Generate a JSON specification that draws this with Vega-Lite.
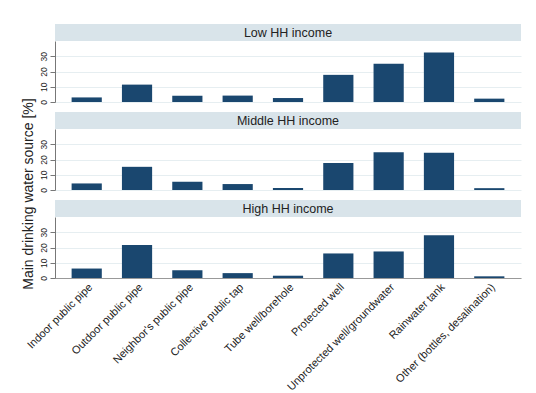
{
  "$schema": "https://vega.github.io/schema/vega-lite/v6.json",
  "padding": {"left": 21, "top": 24, "right": 8, "bottom": 2},
  "background": "white",
  "title": {
    "text": "Main drinking water source [%]",
    "orient": "left",
    "anchor": "middle",
    "fontSize": 14,
    "fontWeight": "normal",
    "color": "#222",
    "offset": -11,
    "dx": 14
  },
  "datasets": {
    "water": [
      {"income": "Low HH income", "source": "Indoor public pipe", "share": 3.0},
      {"income": "Low HH income", "source": "Outdoor public pipe", "share": 11.4},
      {"income": "Low HH income", "source": "Neighbor's public pipe", "share": 4.1},
      {"income": "Low HH income", "source": "Collective public tap", "share": 4.2},
      {"income": "Low HH income", "source": "Tube well/borehole", "share": 2.6},
      {"income": "Low HH income", "source": "Protected well", "share": 17.8},
      {"income": "Low HH income", "source": "Unprotected well/groundwater", "share": 25.1},
      {"income": "Low HH income", "source": "Rainwater tank", "share": 32.4},
      {"income": "Low HH income", "source": "Other (bottles, desalination)", "share": 2.2},
      {"income": "Middle HH income", "source": "Indoor public pipe", "share": 4.3},
      {"income": "Middle HH income", "source": "Outdoor public pipe", "share": 15.2},
      {"income": "Middle HH income", "source": "Neighbor's public pipe", "share": 5.4},
      {"income": "Middle HH income", "source": "Collective public tap", "share": 3.9},
      {"income": "Middle HH income", "source": "Tube well/borehole", "share": 1.3},
      {"income": "Middle HH income", "source": "Protected well", "share": 17.7},
      {"income": "Middle HH income", "source": "Unprotected well/groundwater", "share": 24.7},
      {"income": "Middle HH income", "source": "Rainwater tank", "share": 24.5},
      {"income": "Middle HH income", "source": "Other (bottles, desalination)", "share": 1.2},
      {"income": "High HH income", "source": "Indoor public pipe", "share": 6.2},
      {"income": "High HH income", "source": "Outdoor public pipe", "share": 21.6},
      {"income": "High HH income", "source": "Neighbor's public pipe", "share": 5.1},
      {"income": "High HH income", "source": "Collective public tap", "share": 3.2},
      {"income": "High HH income", "source": "Tube well/borehole", "share": 1.5},
      {"income": "High HH income", "source": "Protected well", "share": 16.1},
      {"income": "High HH income", "source": "Unprotected well/groundwater", "share": 17.4},
      {"income": "High HH income", "source": "Rainwater tank", "share": 28.0},
      {"income": "High HH income", "source": "Other (bottles, desalination)", "share": 1.1}
    ],
    "panels": [
      {"income": "Low HH income"},
      {"income": "Middle HH income"},
      {"income": "High HH income"}
    ]
  },
  "spacing": 7,
  "vconcat": [
    {
      "spacing": 0,
      "vconcat": [
        {
          "width": 466, "height": 17,
          "view": {"fill": "#d9e4ea", "stroke": null},
          "data": {"name": "panels"},
          "transform": [{"filter": "datum.income === 'Low HH income'"}],
          "mark": {"type": "text", "fontSize": 12.5, "font": "Liberation Sans", "color": "#222"},
          "encoding": {"text": {"field": "income"}}
        },
        {
          "width": 466, "height": 61,
          "data": {"name": "water"},
          "transform": [{"filter": "datum.income === 'Low HH income'"}],
          "mark": {"type": "bar", "color": "#1a476f"},
          "encoding": {
            "x": {"field": "source", "type": "nominal", "sort": null, "axis": null,
                  "scale": {"paddingInner": 0.4, "paddingOuter": 0.33}},
            "y": {"field": "share", "type": "quantitative", "scale": {"domain": [0, 40], "nice": false},
                  "axis": {"title": null, "values": [0, 10, 20, 30]}}
          }
        }
      ]
    },
    {
      "spacing": 0,
      "vconcat": [
        {
          "width": 466, "height": 17,
          "view": {"fill": "#d9e4ea", "stroke": null},
          "data": {"name": "panels"},
          "transform": [{"filter": "datum.income === 'Middle HH income'"}],
          "mark": {"type": "text", "fontSize": 12.5, "font": "Liberation Sans", "color": "#222"},
          "encoding": {"text": {"field": "income"}}
        },
        {
          "width": 466, "height": 61,
          "data": {"name": "water"},
          "transform": [{"filter": "datum.income === 'Middle HH income'"}],
          "mark": {"type": "bar", "color": "#1a476f"},
          "encoding": {
            "x": {"field": "source", "type": "nominal", "sort": null, "axis": null,
                  "scale": {"paddingInner": 0.4, "paddingOuter": 0.33}},
            "y": {"field": "share", "type": "quantitative", "scale": {"domain": [0, 40], "nice": false},
                  "axis": {"title": null, "values": [0, 10, 20, 30]}}
          }
        }
      ]
    },
    {
      "spacing": 0,
      "vconcat": [
        {
          "width": 466, "height": 17,
          "view": {"fill": "#d9e4ea", "stroke": null},
          "data": {"name": "panels"},
          "transform": [{"filter": "datum.income === 'High HH income'"}],
          "mark": {"type": "text", "fontSize": 12.5, "font": "Liberation Sans", "color": "#222"},
          "encoding": {"text": {"field": "income"}}
        },
        {
          "width": 466, "height": 61,
          "data": {"name": "water"},
          "transform": [{"filter": "datum.income === 'High HH income'"}],
          "mark": {"type": "bar", "color": "#1a476f"},
          "encoding": {
            "x": {"field": "source", "type": "nominal", "sort": null,
                  "scale": {"paddingInner": 0.4, "paddingOuter": 0.33},
                  "axis": {"title": null, "labelAngle": -45, "ticks": false, "labelPadding": 3,
                           "labelFontSize": 11, "domainColor": "#999999", "labelLimit": 300}},
            "y": {"field": "share", "type": "quantitative", "scale": {"domain": [0, 40], "nice": false},
                  "axis": {"title": null, "values": [0, 10, 20, 30]}}
          }
        }
      ]
    }
  ],
  "config": {
    "font": "Liberation Sans",
    "view": {"stroke": null},
    "axis": {
      "labelColor": "#222",
      "titleColor": "#222",
      "titleFontWeight": "normal",
      "grid": false
    },
    "axisY": {
      "labelAngle": -90,
      "labelAlign": "center",
      "labelBaseline": "bottom",
      "labelFontSize": 8.5,
      "labelPadding": 2,
      "tickSize": 5,
      "tickColor": "#777777",
      "domainColor": "#777777",
      "grid": true,
      "gridColor": "#e6eef1",
      "gridWidth": 1
    }
  }
}
